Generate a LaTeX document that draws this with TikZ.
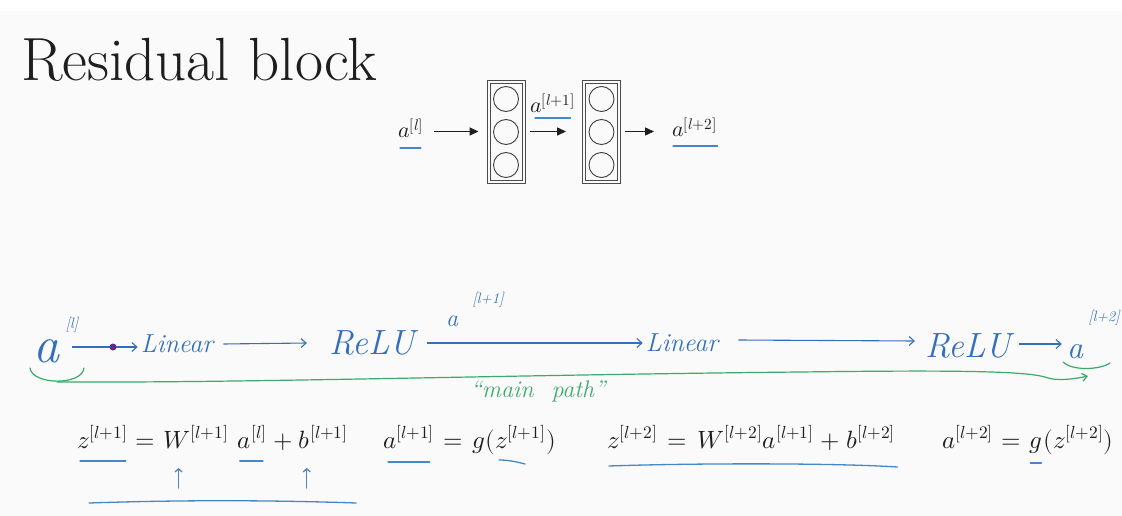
\documentclass[tikz,border=0pt]{standalone}
\usepackage{unicode-math}
\setmathfont{Latin Modern Math}
\usetikzlibrary{arrows.meta,calc}
\definecolor{bgc}{RGB}{250,250,250}
\definecolor{hblue}{RGB}{52,112,186}
\definecolor{ulblue}{RGB}{70,135,200}
\definecolor{hgreen}{RGB}{60,170,105}
\definecolor{hpurple}{RGB}{100,40,140}
\definecolor{ink}{RGB}{30,30,30}
\begin{document}
\begin{tikzpicture}[x=1pt,y=-1pt,
  eqp/.style={inner sep=0pt,anchor=base west,text=ink,font=\fontsize{25}{30}\selectfont},
  topm/.style={inner sep=0pt,anchor=base west,text=ink,font=\fontsize{22}{26}\selectfont},
  hand/.style={inner sep=0pt,text=hblue,font=\itshape\fontsize{24}{28}\selectfont},
  harr/.style={draw=hblue,line width=1.1pt,-{Straight Barb[length=5pt,width=9pt]}},
  toparr/.style={draw=ink,line width=1.4pt,-{Triangle[length=9pt,width=8pt]}},
  ul/.style={draw=ulblue,line width=1.3pt,line cap=round},
  gline/.style={draw=hgreen,line width=1.2pt,line cap=round},
  layer/.style={draw=ink!80,line width=0.9pt,minimum width=38pt,minimum height=103pt,inner sep=0pt},
  neuron/.style={circle,draw=ink!85,line width=0.9pt,minimum size=25pt,inner sep=0pt}
]
\useasboundingbox (0,0) rectangle (1122,516);
\fill[white] (0,0) rectangle (1122,516);
\fill[bgc] (0,11) rectangle (1122,516);

% title
\node[anchor=base west,inner sep=0pt,text=ink,font=\fontsize{61}{66}\selectfont] (title) at (21,81) {Residual block};

% top network
\node[topm] (al) at (398,138) {$a^{[l]}$};
\node[layer] (box1) at (506,131.5) {};
\draw[ink!80,line width=0.9pt] ($(box1.north west)+(3.5,3.5)$) rectangle ($(box1.south east)+(-3.5,-3.5)$);
\node[neuron] (c11) at (506,99) {};
\node[neuron] (c12) at (506,132) {};
\node[neuron] (c13) at (506,165) {};
\node[layer] (box2) at (601.5,131.5) {};
\draw[ink!80,line width=0.9pt] ($(box2.north west)+(3.5,3.5)$) rectangle ($(box2.south east)+(-3.5,-3.5)$);
\node[neuron] (c21) at (601.5,99) {};
\node[neuron] (c22) at (601.5,132) {};
\node[neuron] (c23) at (601.5,165) {};
\node[topm] (al1) at (530,113) {$a^{[l+1]}$};
\node[topm] (al2) at (672,137) {$a^{[l+2]}$};
\draw[toparr] ($(box1.west -| al.east)+(10,0)$) -- ($(box1.west)+(-8,0)$);
\draw[toparr] ($(box1.east)+(5,0)$) -- ($(box2.west)+(-16,0)$);
\draw[toparr] ($(box2.east)+(4,0)$) -- ($(al2.west |- box2.west)+(-18,0)$);
\draw[ul] ($(al.base west)+(2,10)$) -- ($(al.base east)+(-3,10)$);
\draw[ul] ($(al1.base west)+(5,5)$) -- ($(al1.base east)+(-5,5)$);
\draw[ul] ($(al2.base west)+(1,9)$) -- ($(al2.base east)+(0,9)$);

% handwritten row
\node[hand,font=\itshape\fontsize{52}{52}\selectfont,anchor=base] (a0) at (47,362) {a};
\node[hand,font=\itshape\fontsize{15}{15}\selectfont] (a0s) at (72,325) {[l]};
\coordinate (dot) at (113,347);
\node[hand,font=\itshape\fontsize{26}{28}\selectfont] (lin1) at (177,344) {Linear};
\node[hand,font=\itshape\fontsize{35}{35}\selectfont] (relu1) at (372,343) {ReLU};
\node[hand,font=\itshape\fontsize{24}{24}\selectfont] (a1h) at (452,321) {a};
\node[hand,font=\itshape\fontsize{15}{15}\selectfont] (a1hs) at (488,300) {[l+1]};
\node[hand,font=\itshape\fontsize{26}{28}\selectfont] (lin2) at (682,343) {Linear};
\node[hand,font=\itshape\fontsize{35}{35}\selectfont] (relu2) at (968,346) {ReLU};
\node[hand,font=\itshape\fontsize{32}{32}\selectfont,anchor=base] (a2h) at (1075,358) {a};
\node[hand,font=\itshape\fontsize{15}{15}\selectfont] (a2hs) at (1104,318) {[l+2]};

\draw[harr] ($(a0.east |- dot)+(12,0)$) -- ($(lin1.west |- dot)+(-3,0)$);
\fill[hpurple] (dot) circle (3.5);
\draw[harr] ($(lin1.east)+(10,0)$) -- ($(relu1.west)+(-22,0)$);
\draw[harr] ($(relu1.east)+(12,0)$) -- ($(lin2.west)+(-3,0)$);
\draw[harr] ($(lin2.east)+(20,-3)$) -- ($(relu2.west)+(-10,-5)$);
\draw[harr] ($(relu2.east)+(8,-2)$) -- ($(a2h.west |- relu2.east)+(-5,-2)$);

% green skip annotation
\draw[gline] (30,368) .. controls (32,385) and (82,386) .. (84,368);
\draw[gline,-{Straight Barb[length=5pt,width=8pt]}] (57,382) .. controls (250,383) and (500,375) .. (800,372) .. controls (960,370) and (1030,371) .. (1048,378) .. controls (1058,381) and (1075,379) .. (1088,376);
\draw[gline] (1063,362) .. controls (1072,371) and (1100,370) .. (1110,363);
\node[hand,text=hgreen,font=\itshape\fontsize{24}{24}\selectfont] (mp) at (538,391) {“main\hspace{18pt}path”};

% equations
\node[eqp] (z1) at (77,448) {$z^{[l+1]}$};
\node[eqp] (e1) at ($(z1.base east)+(8,0)$) {$=$};
\node[eqp] (W1) at ($(e1.base east)+(8,0)$) {$W^{[l+1]}$};
\node[eqp] (a1e) at ($(W1.base east)+(9,0)$) {$a^{[l]}$};
\node[eqp] (p1) at ($(a1e.base east)+(6,0)$) {$+$};
\node[eqp] (b1) at ($(p1.base east)+(6,0)$) {$b^{[l+1]}$};

\node[eqp] (A1) at (383,448) {$a^{[l+1]}$};
\node[eqp] (e2) at ($(A1.base east)+(9,0)$) {$=$};
\node[eqp] (g1) at ($(e2.base east)+(9,0)$) {$g($};
\node[eqp] (z1b) at ($(g1.base east)+(0,0)$) {$z^{[l+1]}$};
\node[eqp] (c1) at ($(z1b.base east)+(1,0)$) {$)$};

\node[eqp] (z2) at (607,448) {$z^{[l+2]}$};
\node[eqp] (e3) at ($(z2.base east)+(10,0)$) {$=$};
\node[eqp] (W2) at ($(e3.base east)+(10,0)$) {$W^{[l+2]}$};
\node[eqp] (a2e) at ($(W2.base east)+(0,0)$) {$a^{[l+1]}$};
\node[eqp] (p3) at ($(a2e.base east)+(6,0)$) {$+$};
\node[eqp] (b2) at ($(p3.base east)+(6,0)$) {$b^{[l+2]}$};

\node[eqp] (A2) at (942,448) {$a^{[l+2]}$};
\node[eqp] (e4) at ($(A2.base east)+(8,0)$) {$=$};
\node[eqp] (g2) at ($(e4.base east)+(8,0)$) {$g$};
\node[eqp] (r2) at ($(g2.base east)+(1,0)$) {$(z^{[l+2]})$};

\draw[ul] ($(z1.base west)+(3,13)$) -- ($(z1.base east)+(-2,13)$);
\draw[ul] ($(a1e.base west)+(2,13)$) -- ($(a1e.base east)+(-4,13)$);
\draw[ul] ($(A1.base west)+(5,14)$) -- ($(A1.base east)+(-5,14)$);
\draw[ul] ($(z1b.base west)+(4,12)$) .. controls +(10,0) and +(-8,-2) .. ($(z1b.base west)+(30,16)$);
\draw[ul] ($(z2.base west)+(2,18)$) .. controls ($(z2.base west)+(90,15)$) and ($(b2.base east)+(-60,15)$) .. ($(b2.base east)+(2,19)$);
\draw[ul] ($(g2.base west)+(1,15)$) -- ($(g2.base west)+(12,15)$);
\draw[ul,-{Straight Barb[length=3pt,width=7pt]}] ($(W1.base west)+(15,40)$) -- ++(0,-20);
\draw[ul,-{Straight Barb[length=3pt,width=7pt]}] ($(b1.base west)+(8,40)$) -- ++(0,-20);
\draw[ul] ($(z1.base west)+(12,55)$) .. controls ($(z1.base west)+(100,52)$) and ($(b1.base east)+(-80,52)$) .. ($(b1.base east)+(8,55)$);
\end{tikzpicture}
\end{document}
